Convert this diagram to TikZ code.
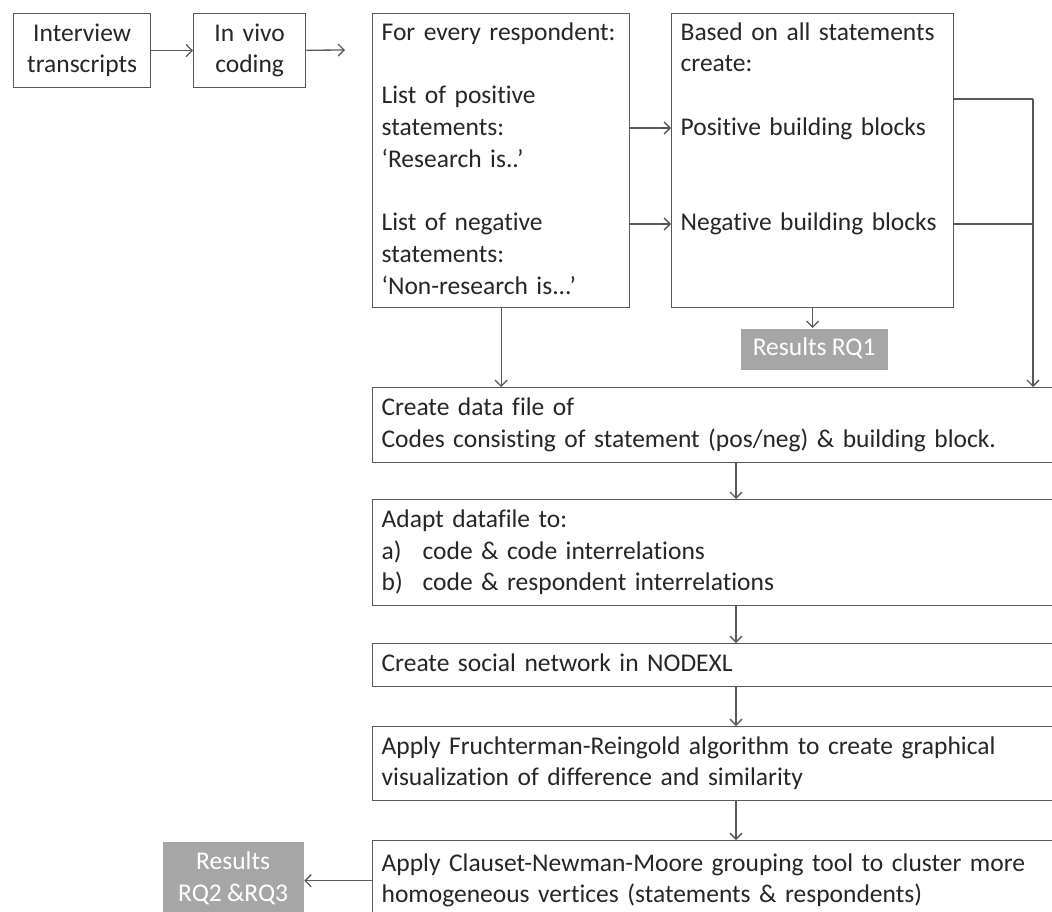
\documentclass[tikz,border=0pt]{standalone}
\usepackage{fontspec}
\setmainfont{Carlito}[Ligatures=NoCommon, WordSpace=0.9]
\usetikzlibrary{arrows.meta}
\hyphenpenalty=10000
\exhyphenpenalty=10000

\definecolor{linegray}{HTML}{595959}
\definecolor{textgray}{HTML}{262626}
\definecolor{resgray}{HTML}{A6A6A6}

\tikzset{
  base/.style={anchor=north west, inner ysep=0pt,
    font=\fontsize{25.5pt}{31.75pt}\selectfont,
    execute at begin node=\strut, execute at end node=\strut},
  box/.style={base, draw=linegray, line width=1.3pt, align=left,
    inner xsep=9pt, text=textgray},
  smallbox/.style={box, align=center},
  result/.style={base, fill=resgray, text=white, align=center, inner xsep=4pt},
}

\begin{document}
\begin{tikzpicture}[x=1pt, y=-1pt, >={Straight Barb[length=6pt,width=12pt]},
  line width=1.3pt, draw=linegray]

\useasboundingbox (0,0) rectangle (1052,911);
\clip (0,0) rectangle (1052,911);

% Top row
\node[smallbox, text width=119pt, minimum height=74pt] (transcripts) at (13,13) {Interview\\transcripts};
\node[smallbox, text width=94pt, minimum height=74pt] (invivo) at (193,13) {In vivo\\coding};
\coordinate (invivoend) at (345,50);

\node[box, text width=239pt, minimum height=294pt] (respondent) at (372,13)
  {For every respondent:\\\strut\\List of positive\\statements:\\‘Research is..’\\\strut\\List of negative\\statements:\\‘Non-research is...’};
\node[box, text width=264pt, minimum height=294pt] (blocks) at (671,13)
  {Based on all statements\\create:\\\strut\\Positive building blocks\\\strut\\\strut\\Negative building blocks\\\strut\\\strut};

\node[result, minimum width=147pt, minimum height=41pt] (rqone) at (740,328) {Results RQ1};

% Process column
\node[box, text width=670pt, minimum height=75pt] (datafile) at (372,387)
  {Create data file of\\Codes consisting of statement (pos/neg) \& building block.};
\node[box, text width=670pt, minimum height=106pt] (adapt) at (372,499)
  {Adapt datafile to:\\\makebox[41pt][l]{a)}code \& code interrelations\\\makebox[41pt][l]{b)}code \& respondent interrelations};
\node[box, text width=670pt, minimum height=43pt] (network) at (372,643)
  {Create social network in NODEXL};
\node[box, text width=670pt, minimum height=74pt] (layout) at (372,726)
  {Apply Fruchterman-Reingold algorithm to create graphical\\visualization of difference and similarity};
\node[box, text width=670pt, minimum height=80pt] (grouping) at (372,840)
  {Apply Clauset-Newman-Moore grouping tool to cluster more\\homogeneous vertices (statements \& respondents)};

\node[result, minimum width=141pt, minimum height=80pt] (rqtwo) at (162,841) {Results\\RQ2 \&RQ3};

% Arrows
\draw[->] (transcripts) -- (invivo);
\draw[->] (invivo) -- (invivoend);
\draw[->] (respondent.east |- 0,128) -- (blocks.west |- 0,128);
\draw[->] (respondent.east |- 0,224) -- (blocks.west |- 0,224);

\coordinate (rail) at (1033,99);
\draw (blocks.east |- rail) -- (rail);
\draw (blocks.east |- 0,224) -- (rail |- 0,224);
\draw[->] (rail) -- (rail |- datafile.north);
\draw[->] (blocks.south) -- (blocks.south |- rqone.north);
\draw[->] (respondent.south) -- (respondent.south |- datafile.north);

\coordinate (spine) at (736,0);
\draw[->] (datafile.south -| spine) -- (adapt.north -| spine);
\draw[->] (adapt.south -| spine) -- (network.north -| spine);
\draw[->] (network.south -| spine) -- (layout.north -| spine);
\draw[->] (layout.south -| spine) -- (grouping.north -| spine);
\draw[->] (grouping.west) -- (grouping.west -| rqtwo.east);

\end{tikzpicture}
\end{document}
